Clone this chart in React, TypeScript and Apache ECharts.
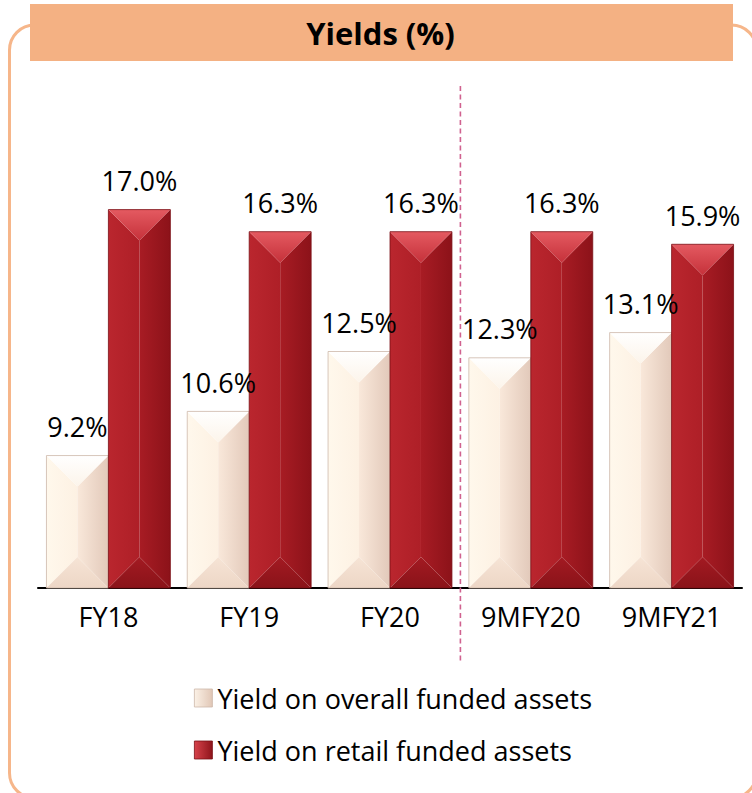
import React, { useEffect, useRef } from "react";
import * as echarts from "echarts";

// Period categories and yields (%)
const categories = ["FY18", "FY19", "FY20", "9MFY20", "9MFY21"];
const overallYield = [9.2, 10.6, 12.5, 12.3, 13.1];
const retailYield = [17.0, 16.3, 16.3, 16.3, 15.9];
const seriesNames = ["Yield on overall funded assets", "Yield on retail funded assets"];
const titleText = "Yields (%)";

// Value axis range
const axisMin = 5;
const axisMax = 20;

const FONT = '"Open Sans", "Noto Sans", "DejaVu Sans", sans-serif';

type Palette = {
  top: [string, string];
  left: [string, string];
  right: [string, string];
  bottom: [string, string];
  edge: string;
  legend: [string, string];
};

const creamPalette: Palette = {
  top: ["#FFFFFF", "#FCF4EA"],
  left: ["#FFF8EC", "#FDF1E3"],
  right: ["#F9E8DA", "#E2C9BA"],
  bottom: ["#F6E4D5", "#EDD6C6"],
  edge: "#CDB7AA",
  legend: ["#FBF1E6", "#E1C7B6"],
};

const redPalette: Palette = {
  top: ["#E45A61", "#C5313A"],
  left: ["#BA262E", "#AE1F27"],
  right: ["#A81C24", "#8C1219"],
  bottom: ["#A31A22", "#8A1319"],
  edge: "#7A0F15",
  legend: ["#D6424A", "#8E141B"],
};

const vGrad = (c: [string, string]) =>
  new echarts.graphic.LinearGradient(0, 0, 0, 1, [
    { offset: 0, color: c[0] },
    { offset: 1, color: c[1] },
  ]);
const hGrad = (c: [string, string]) =>
  new echarts.graphic.LinearGradient(0, 0, 1, 0, [
    { offset: 0, color: c[0] },
    { offset: 1, color: c[1] },
  ]);

// Beveled bar: top/bottom triangles and left/right halves, with the value label above
function bevelRenderer(side: 0 | 1, pal: Palette) {
  return (_params: any, api: any) => {
    const cat = api.value(0);
    const v = api.value(1);
    const topPt = api.coord([cat, v]);
    const basePt = api.coord([cat, axisMin]);
    const band = api.size([1, 0])[0];
    const w = band * 0.44;
    const x0 = side === 0 ? topPt[0] - w : topPt[0];
    const x1 = x0 + w;
    const xm = (x0 + x1) / 2;
    const t = topPt[1];
    const b = basePt[1];
    const d = Math.min(w / 2, (b - t) / 2);
    return {
      type: "group",
      children: [
        {
          type: "polygon",
          shape: { points: [[x0, t], [xm, t + d], [xm, b - d], [x0, b]] },
          style: { fill: hGrad(pal.left) },
        },
        {
          type: "polygon",
          shape: { points: [[xm, t + d], [x1, t], [x1, b], [xm, b - d]] },
          style: { fill: hGrad(pal.right) },
        },
        {
          type: "polygon",
          shape: { points: [[x0, t], [x1, t], [xm, t + d]] },
          style: { fill: vGrad(pal.top) },
        },
        {
          type: "polygon",
          shape: { points: [[x0, b], [xm, b - d], [x1, b]] },
          style: { fill: vGrad(pal.bottom) },
        },
        {
          type: "rect",
          shape: { x: x0, y: t, width: w, height: b - t },
          style: { fill: "none", stroke: pal.edge, lineWidth: 0.8 },
        },
        {
          type: "text",
          z2: 20,
          style: {
            text: v.toFixed(1) + "%",
            x: xm,
            y: t - 29,
            align: "center",
            verticalAlign: "middle",
            fontSize: 27,
            fontFamily: FONT,
            fill: "#000",
          },
        },
      ],
    };
  };
}

function buildGraphics(dividerX: number | null) {
  const els: any[] = [
    {
      id: "frame",
      type: "rect",
      z: 0,
      shape: { x: 9.5, y: 25, width: 747, height: 773, r: 25 },
      style: { fill: "none", stroke: "#F6B68A", lineWidth: 3 },
    },
    {
      id: "banner",
      type: "rect",
      z: 1,
      shape: { x: 30, y: 4, width: 703, height: 57 },
      style: { fill: "#F4B183" },
    },
    {
      id: "title",
      type: "text",
      z: 2,
      style: {
        text: titleText,
        x: 380.5,
        y: 33,
        align: "center",
        verticalAlign: "middle",
        fontSize: 31,
        fontWeight: "bold",
        fontFamily: FONT,
        fill: "#000",
      },
    },
  ];
  if (dividerX !== null) {
    els.push({
      id: "divider",
      type: "line",
      z: 10,
      shape: { x1: dividerX, y1: 86, x2: dividerX, y2: 662 },
      style: { stroke: "#D0628F", lineWidth: 1.6, lineDash: [5, 3.5] },
    });
  }
  return els;
}

export default function App() {
  const ref = useRef<HTMLDivElement>(null);

  useEffect(() => {
    if (!ref.current) return;
    const chart = echarts.init(ref.current, null, { renderer: "svg" });

    const option: any = {
      animation: false,
      backgroundColor: "#FFFFFF",
      grid: { left: 38, right: 10, top: 115, bottom: 205 },
      xAxis: {
        type: "category",
        data: categories,
        axisLine: { lineStyle: { color: "#000", width: 2 } },
        axisTick: { show: false },
        axisLabel: { fontSize: 27, color: "#000", fontFamily: FONT, margin: 15 },
      },
      yAxis: {
        type: "value",
        min: axisMin,
        max: axisMax,
        show: false,
        splitLine: { show: false },
      },
      legend: {
        orient: "vertical",
        left: 189,
        top: 678,
        itemWidth: 18,
        itemHeight: 18,
        itemGap: 22,
        textStyle: { fontSize: 27, color: "#000", fontFamily: FONT, lineHeight: 30 },
        data: [
          { name: seriesNames[0], icon: "rect", itemStyle: { color: hGrad(creamPalette.legend), borderColor: creamPalette.edge, borderWidth: 0.8 } },
          { name: seriesNames[1], icon: "rect", itemStyle: { color: hGrad(redPalette.legend), borderColor: redPalette.edge, borderWidth: 0.8 } },
        ],
      },
      series: [
        {
          name: seriesNames[0],
          type: "custom",
          renderItem: bevelRenderer(0, creamPalette),
          encode: { x: 0, y: 1 },
          itemStyle: { color: "#F2E0D2" },
          data: overallYield.map((v, i) => [i, v]),
        },
        {
          name: seriesNames[1],
          type: "custom",
          renderItem: bevelRenderer(1, redPalette),
          encode: { x: 0, y: 1 },
          itemStyle: { color: "#B22028" },
          data: retailYield.map((v, i) => [i, v]),
        },
      ],
      graphic: buildGraphics(null),
    };
    chart.setOption(option);

    // Dashed divider between the full-year and nine-month periods
    const xa = chart.convertToPixel({ xAxisIndex: 0 }, categories[2]) as number;
    const xb = chart.convertToPixel({ xAxisIndex: 0 }, categories[3]) as number;
    chart.setOption({ graphic: buildGraphics((xa + xb) / 2) }, { replaceMerge: ["graphic"] } as any);

    return () => chart.dispose();
  }, []);

  return (
    <div
      ref={ref}
      style={{ position: "absolute", left: 0, top: 0, width: 752, height: 793, background: "#fff" }}
    />
  );
}
